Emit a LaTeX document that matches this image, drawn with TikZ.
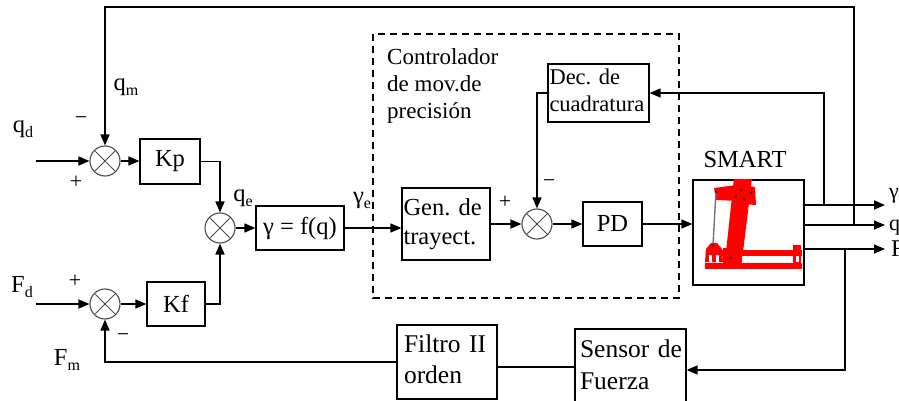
\documentclass[tikz,border=0pt]{standalone}
\usepackage{fontspec}
\setmainfont{Liberation Serif}
\usetikzlibrary{arrows.meta,calc}
% small lowered subscript for signal names
\newcommand{\sbs}[1]{\raisebox{-5pt}{\fontsize{16}{16}\selectfont #1}}
% two left-aligned lines that never wrap
\newcommand{\twolines}[2]{\begin{tabular}{@{}l@{}}#1\\#2\end{tabular}}
\begin{document}
\begin{tikzpicture}[x=1pt,y=-1pt,
  every node/.style={font=\fontsize{24.5}{28}\selectfont, inner sep=0pt},
  blk/.style={draw, line width=1.2pt, inner sep=0pt, align=center},
  mblk/.style={draw, line width=1.2pt, align=left, inner ysep=0pt},
  sumn/.style={circle, draw=black!70, line width=1.1pt, minimum size=30pt,
    path picture={\draw[black!70, line width=1pt]
      (path picture bounding box.north west) -- (path picture bounding box.south east)
      (path picture bounding box.north east) -- (path picture bounding box.south west);}},
  wire/.style={line width=1.5pt},
  arr/.style={wire, -{Triangle[length=11pt,width=9pt]}},
  sgn/.style={font=\fontsize{22}{22}\selectfont},
  robot/.style={fill=red, draw=none},
  hole/.style={fill=black!80, draw=none},
]
\useasboundingbox (0,0) rectangle (899,401);

% ---------- summing junctions and blocks ----------
\node[sumn] (s1) at (105,161) {};
\node[sumn] (s2) at (220,228) {};
\node[sumn] (s3) at (105,304) {};
\node[sumn] (s4) at (537,224) {};

\node[blk, minimum width=60pt, minimum height=45pt] (kp) at (170,161.5) {Kp};
\node[blk, minimum width=58pt, minimum height=44pt] (kf) at (176,304) {Kf};
\node[blk, minimum width=88pt, minimum height=44pt] (gam) at (300,228) {γ = f(q)};
\node[mblk, inner xsep=1.5pt, text width=85pt, minimum height=72pt,
      font=\fontsize{24.5}{29}\selectfont] (gen) at (446,224) {\twolines{Gen.\ de}{trayect.}};
\node[blk, minimum width=59pt, minimum height=44pt] (pd) at (612.5,224) {PD};
\node[mblk, inner xsep=1.5pt, text width=98pt, minimum height=58pt,
      font=\fontsize{22.5}{27}\selectfont] (dec) at (598.5,93) {\twolines{Dec.\ de}{cuadratura}};
\node[blk, minimum width=111pt, minimum height=105pt] (smart) at (748.5,232.5) {};
\node[mblk, inner xsep=7pt, text width=86pt, minimum height=74pt,
      font=\fontsize{25.5}{31}\selectfont] (fl) at (447,362) {\twolines{Filtro II}{orden}};
\node[mblk, inner xsep=5pt, text width=101pt, minimum height=77pt,
      font=\fontsize{25.5}{32}\selectfont] (sens) at (630.5,367.5) {\twolines{Sensor de}{Fuerza}};

% ---------- precision motion controller frame ----------
\draw[line width=1.5pt, dash pattern=on 7pt off 5pt] (373,34) rectangle (679,298);
\node[anchor=base west, font=\fontsize{23}{27}\selectfont] (ct1) at (387,65) {Controlador};
\node[anchor=base west, font=\fontsize{23}{27}\selectfont] (ct2) at (387,92) {de mov.de};
\node[anchor=base west, font=\fontsize{23}{27}\selectfont] (ct3) at (387,119) {precisión};

% ---------- robot sketch inside the SMART block ----------
\node (smartlbl) at (745,160) {SMART};
\begin{scope}
  \clip (smart.north west) rectangle (smart.south east);
  \fill[robot] (705,263) rectangle (802,269);
  \fill[robot] (722,250) rectangle (802,256);
  \fill[robot] (793,245) rectangle (801,263);
  \fill[white] (795.5,256) rectangle (798.5,262);
  \fill[robot] (705,262) -- (706,249) -- (711,243) -- (717,243) -- (722,249) -- (723,262) -- cycle;
  \fill[white] (708.5,255) rectangle (711.5,262);
  \fill[white] (716,255) rectangle (719,262);
  \fill[robot] (723,248) rectangle (742,263);
  \fill[robot] (726,252) -- (743,252) -- (752,178) -- (734,178) -- cycle;
  \fill[robot] (714,188) -- (737,185) -- (738,201) -- (716,200) -- cycle;
  \fill[robot] (744,185) -- (755,187) -- (756,205) -- (743,204) -- cycle;
  \draw[black!55, line width=1.4pt] (713,245) -- (716,192);
  \foreach \p in {(713,245),(716,192),(741,190),(736,197),(744,199),(751,193),(731,258)}
    \fill[hole] \p circle (1.4pt);
\end{scope}

% ---------- forward path ----------
\coordinate (qin) at (36,161);
\coordinate (fin) at (36,304);
\draw[arr] (qin) -- (s1.west);
\draw[arr] (fin) -- (s3.west);
\draw[arr] (s1.east) -- (s1.east -| kp.west);
\draw[arr] (s3.east) -- (s3.east -| kf.west);
\draw[arr] (kp.east) -| (s2.north);
\draw[arr] (kf.east) -| (s2.south);
\draw[arr] (s2.east) -- (s2.east -| gam.west);
\draw[arr] (gam.east) -- (gam.east -| gen.west);
\draw[arr] (gen.east |- s4) -- (s4.west);
\draw[arr] (s4.east) -- (s4.east -| pd.west);
\draw[arr] (pd.east) -- (pd.east -| smart.west);
\draw[arr] (dec.west) -| (s4.north);

% ---------- outputs ----------
\coordinate (gout) at (885,205);
\coordinate (qout) at (885,225);
\coordinate (fout) at (885,249);
\draw[arr] (smart.east |- gout) -- (gout);
\draw[arr] (smart.east |- qout) -- (qout);
\draw[arr] (smart.east |- fout) -- (fout);
\node[anchor=base west, font=\fontsize{22}{22}\selectfont] (gl) at (889,198) {γ};
\node[anchor=base west, font=\fontsize{22}{22}\selectfont] (ql) at (889,230) {q};
\node[anchor=base west, font=\fontsize{24}{24}\selectfont] (fl2) at (891,256) {F};

% ---------- feedback paths ----------
\coordinate (tapq) at (854,225);
\coordinate (topr) at (854,7);
\draw[arr] (tapq) -- (topr) -| (s1.north);
\coordinate (tapg) at (824,205);
\draw[arr] (tapg) |- (dec.east);
\coordinate (tapf) at (845,249);
\coordinate (fbot) at (845,370);
\draw[arr] (tapf) -- (fbot) -- (fbot -| sens.east);
\coordinate (yl) at (0,367);
\draw[wire] (sens.west |- yl) -- (fl.east |- yl);
\draw[arr] (fl.west) -| (s3.south);

% ---------- signal labels and signs ----------
\node (qd) at (23,129) {q\sbs{d}};
\node (qm) at (126,87) {q\sbs{m}};
\node (qe) at (243,198) {q\sbs{e}};
\node (ge) at (362,200) {γ\sbs{e}};
\node (fd) at (22,287) {F\sbs{d}};
\node (fm) at (67,360) {F\sbs{m}};
\node[sgn] (m1) at (81,121) {−};
\node[sgn] (p1) at (76,182) {+};
\node[sgn] (p3) at (75,281) {+};
\node[sgn] (m3) at (123,338) {−};
\node[sgn] (p4) at (505,202) {+};
\node[sgn] (m4) at (549,184) {−};
\end{tikzpicture}
\end{document}
